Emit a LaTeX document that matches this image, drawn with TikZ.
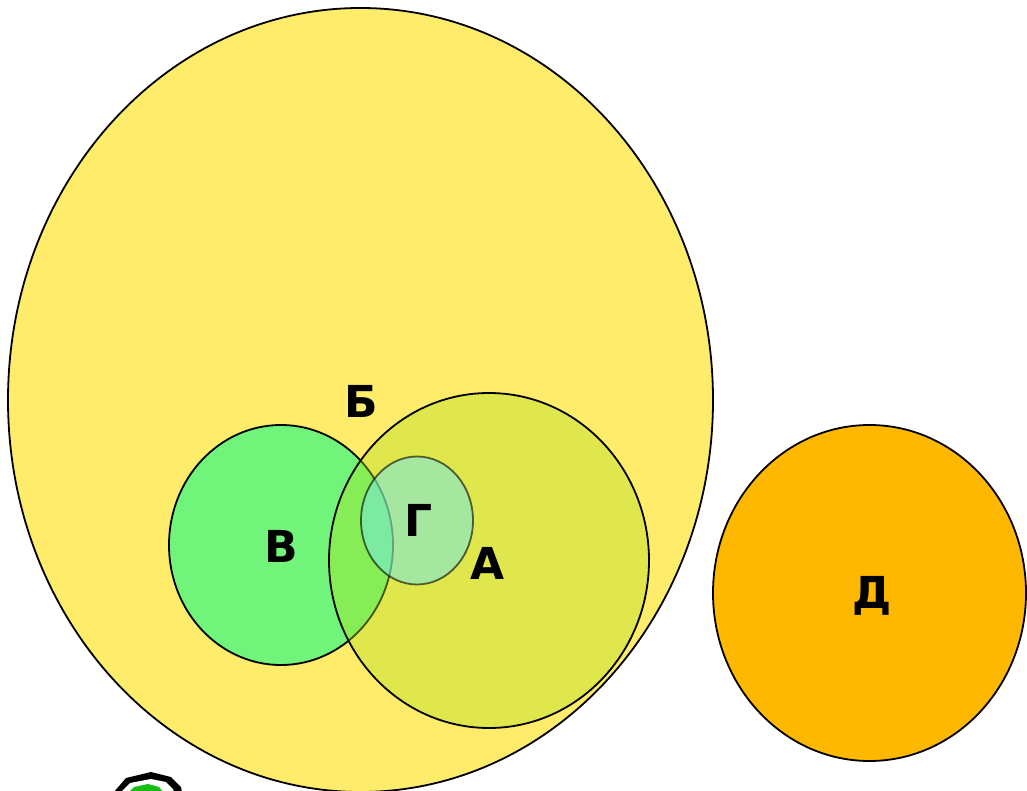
\documentclass[tikz,border=0pt]{standalone}
\usepackage{fontspec}
\setmainfont{DejaVu Sans}
\definecolor{cB}{RGB}{254,236,106}
\definecolor{cV}{RGB}{112,245,122}
\definecolor{cA}{RGB}{175,225,32}
\definecolor{cG}{RGB}{118,232,225}
\definecolor{cD}{RGB}{255,184,0}
\definecolor{cO}{RGB}{20,190,20}
\tikzset{
  setshape/.style={ellipse, draw=black, line width=1.8pt, inner sep=0pt},
  lbl/.style={font=\fontsize{44}{50}\selectfont\bfseries, inner sep=0pt}
}
\usetikzlibrary{shapes.geometric}
\begin{document}
\begin{tikzpicture}[x=1pt,y=-1pt]
\useasboundingbox (0,0) rectangle (1027,791);
\clip (0,0) rectangle (1027,791);
\fill[white] (0,0) rectangle (1027,791);
% Б
\node[setshape, fill=cB, minimum width=705pt, minimum height=784pt] (B) at (360.5,400) {};
% В
\node[setshape, fill=cV, minimum width=224pt, minimum height=240pt] (V) at (281,545) {};
% А
\node[setshape, fill=cA, fill opacity=0.38, minimum width=320pt, minimum height=335pt] (A) at (489,560.5) {};
% Г
\node[setshape, draw=black, draw opacity=0.6, fill=cG, fill opacity=0.55, minimum width=112pt, minimum height=128pt] (G) at (417,520.5) {};
% Д
\node[setshape, fill=cD, minimum width=313pt, minimum height=336pt] (D) at (869.5,593) {};
% labels
\node[lbl] (lB) at (361,401) {Б};
\node[lbl] (lV) at (281,546) {В};
\node[lbl] (lG) at (419,520) {Г};
\node[lbl] (lA) at (488,563) {А};
\node[lbl] (lD) at (872,596) {Д};
% bottom-left partial shape
\fill[black] (113,793) -- (126,778) -- (151,772) -- (171,777) -- (181,787) -- (182,793) -- cycle;
\fill[white] (120,793) -- (130,783) -- (151,779) -- (166,782) -- (173,789) -- (174,793) -- cycle;
\fill[cO] (128,793) -- (134,787) -- (148,784) -- (159,787) -- (164,793) -- cycle;
\end{tikzpicture}
\end{document}
